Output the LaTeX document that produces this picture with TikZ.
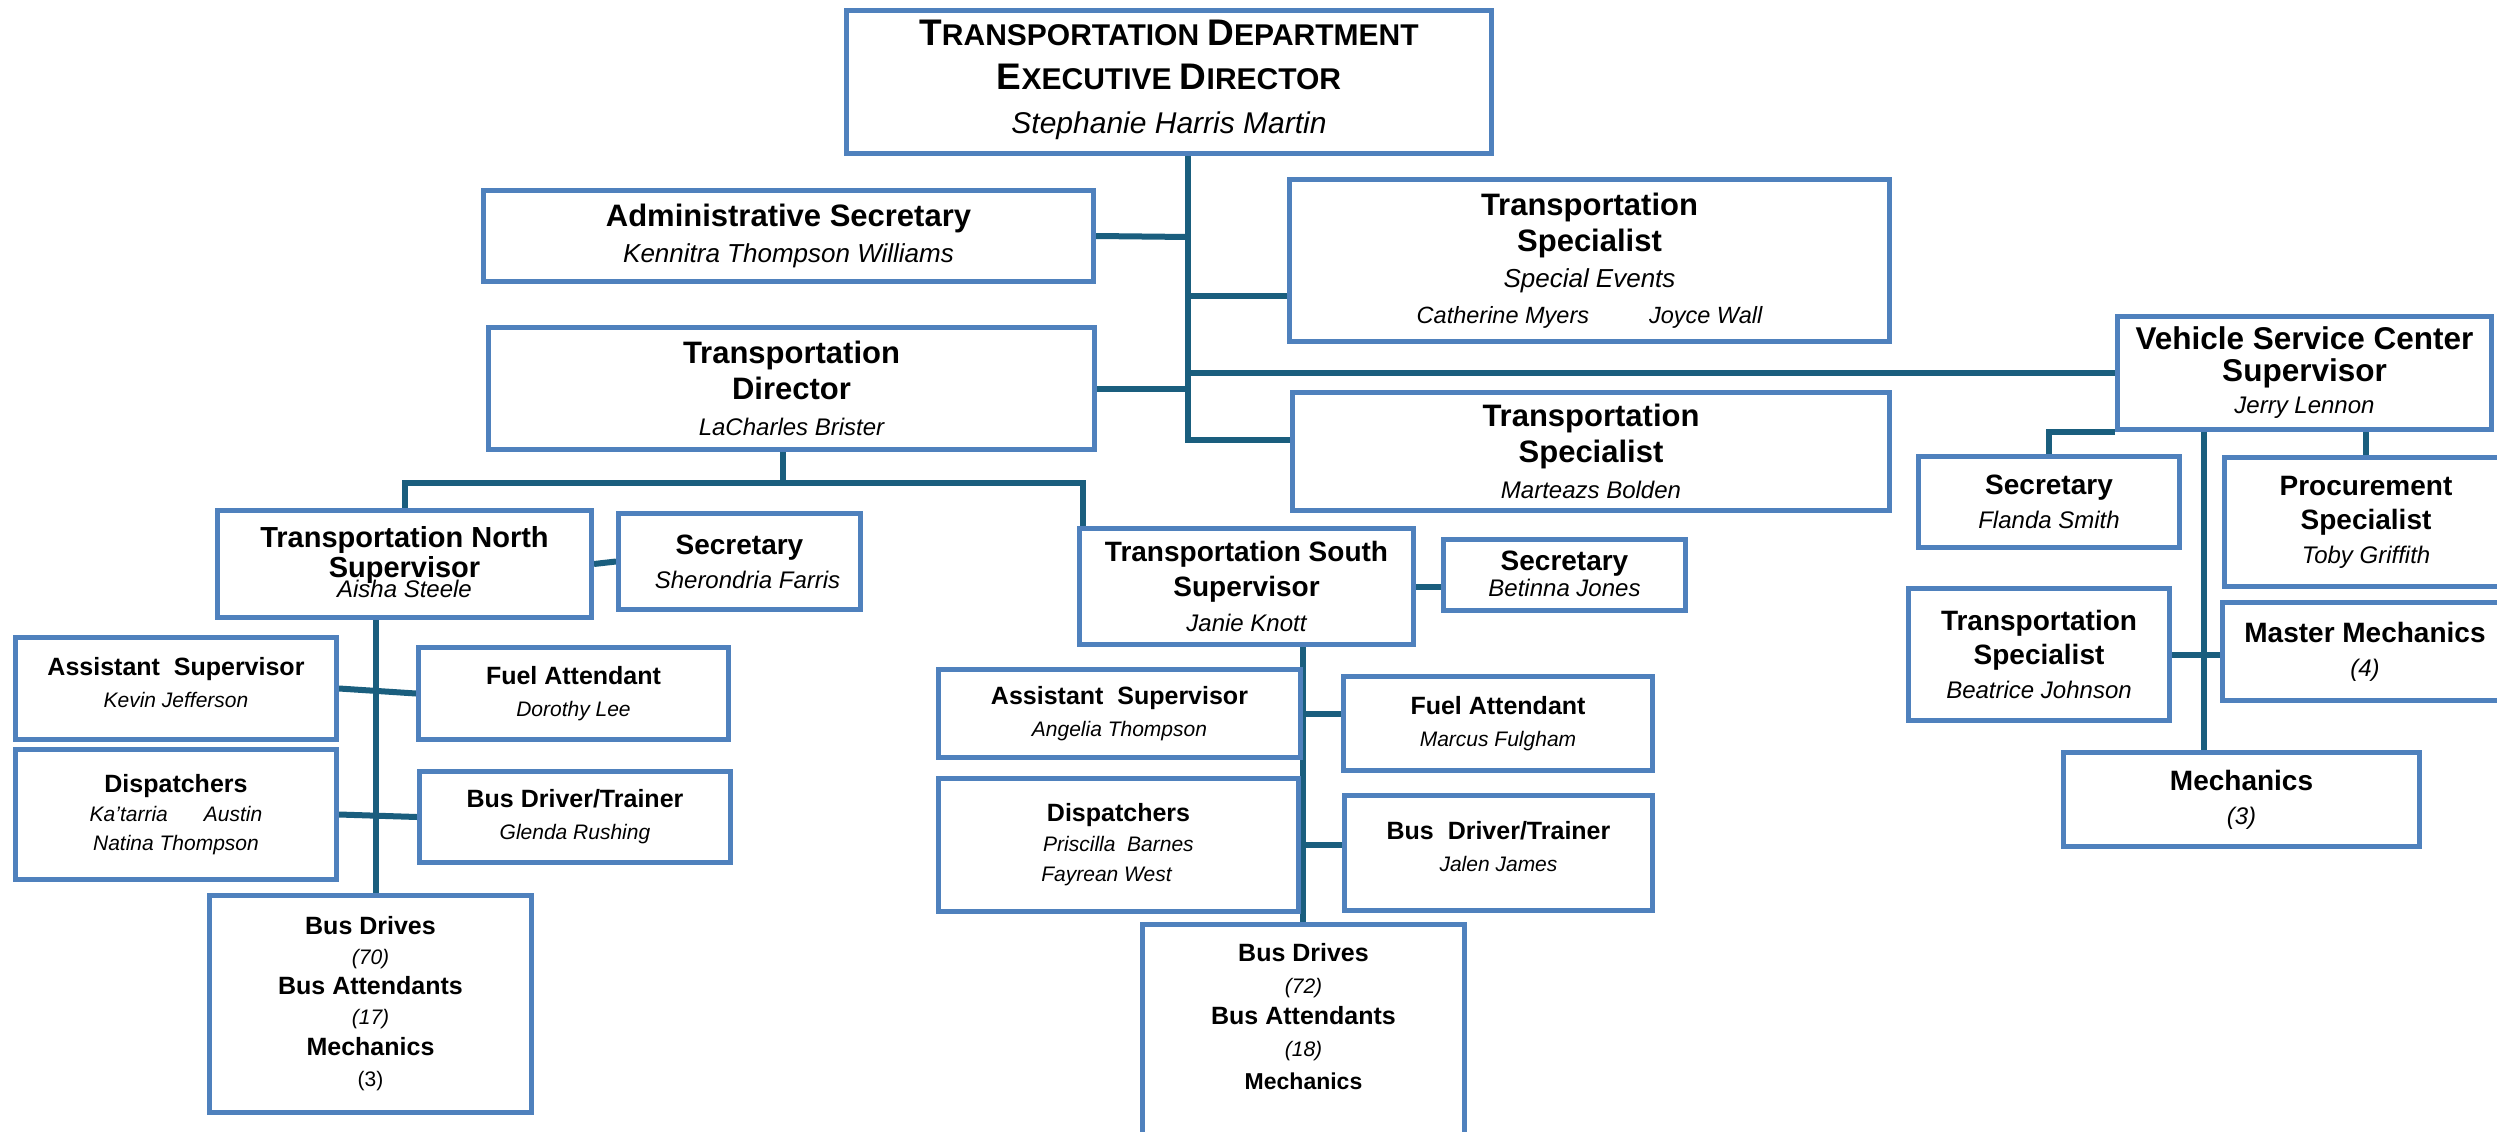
\documentclass[tikz,border=0pt]{standalone}
\usepackage{fontspec}
\setmainfont{Liberation Sans}
\usetikzlibrary{backgrounds}
\definecolor{boxblue}{RGB}{79,129,189}
\definecolor{linecol}{RGB}{26,94,126}
\tikzset{
  box/.style={draw=boxblue, line width=5pt, fill=white, rectangle, inner sep=0pt, align=center, anchor=north west},
  conn/.style={draw=linecol, line width=6pt},
  bigbox/.style={font=\fontsize{31}{36}\selectfont},
  midbox/.style={font=\fontsize{28}{34}\selectfont},
  smlbox/.style={font=\fontsize{25}{32}\selectfont},
}
\newcommand\nm[1]{{\fontsize{24}{28}\selectfont\itshape #1}}
\newcommand\snm[1]{{\fontsize{21}{24}\selectfont\itshape #1}}
\newcommand\sct[2]{{\fontsize{37}{44}\selectfont\bfseries #1}{\fontsize{30}{44}\selectfont\bfseries #2}}
\begin{document}
\begin{tikzpicture}[x=1pt,y=1pt]
\useasboundingbox (0,0) rectangle (2497,-1132);
% top level
\node[box, minimum width=645pt, minimum height=143pt, font=\fontsize{30}{44}\selectfont] (exec) at (844,-8)
  {\sct{T}{RANSPORTATION} \sct{D}{EPARTMENT}\\ \sct{E}{XECUTIVE} \sct{D}{IRECTOR}\\ {\itshape Stephanie Harris Martin}\rule[-10pt]{0pt}{10pt}};
\node[box, bigbox, minimum width=610pt, minimum height=91pt] (admin) at (481,-188)
  {\textbf{Administrative Secretary}\\ {\fontsize{26}{28}\selectfont\itshape Kennitra Thompson Williams}};
\node[box, bigbox, minimum width=600pt, minimum height=162pt] (spec1) at (1287,-177)
  {\textbf{Transportation}\\ \textbf{Specialist}\\ {\fontsize{26}{28}\selectfont\itshape Special Events}\\ {\fontsize{23.5}{24}\selectfont\itshape Catherine Myers\hspace{60pt}Joyce Wall}};
\node[box, bigbox, minimum width=606pt, minimum height=122pt] (dir) at (486,-325)
  {\textbf{Transportation}\\ \textbf{Director}\\ \nm{LaCharles Brister}};
\node[box, bigbox, minimum width=597pt, minimum height=118pt] (spec2) at (1290,-390)
  {\textbf{Transportation}\\ \textbf{Specialist}\\ \nm{Marteazs Bolden}};
% vehicle service center
\node[box, minimum width=374pt, minimum height=113pt, font=\fontsize{31.5}{32}\selectfont] (vsc) at (2115,-314)
  {\textbf{Vehicle Service Center}\\ \textbf{Supervisor}\\ \nm{Jerry Lennon}};
\node[box, midbox, minimum width=261pt, minimum height=91pt] (secF) at (1916,-454)
  {\textbf{Secretary}\\ \nm{Flanda Smith}};
\node[box, midbox, minimum width=283pt, minimum height=129pt] (proc) at (2222,-455)
  {\textbf{Procurement}\\ \textbf{Specialist}\\ \nm{Toby Griffith}};
\node[box, midbox, minimum width=261pt, minimum height=132pt] (beat) at (1906,-586)
  {\textbf{Transportation}\\ \textbf{Specialist}\\ \nm{Beatrice Johnson}};
\node[box, midbox, minimum width=285pt, minimum height=98pt] (master) at (2220,-600)
  {\textbf{Master Mechanics}\\ \nm{(4)}};
\node[box, midbox, minimum width=356pt, minimum height=94pt] (mech) at (2061,-750)
  {\textbf{Mechanics}\\ \nm{(3)}};
% north
\node[box, font=\fontsize{29}{30}\selectfont, minimum width=374pt, minimum height=107pt] (north) at (215,-508)
  {\textbf{Transportation North}\\ \textbf{Supervisor}\\[-10pt] \nm{Aisha Steele}\rule[-4pt]{0pt}{4pt}};
\node[box, midbox, minimum width=242pt, minimum height=96pt] (secS) at (616,-511)
  {\textbf{Secretary}\\ \nm{\hspace{16pt}Sherondria Farris}};
\node[box, smlbox, minimum width=321pt, minimum height=102pt] (asstN) at (13,-635)
  {\textbf{Assistant\ \ Supervisor}\\ \snm{Kevin Jefferson}\rule[-12pt]{0pt}{12pt}};
\node[box, smlbox, minimum width=310pt, minimum height=92pt] (fuelN) at (416,-645)
  {\textbf{Fuel Attendant}\\ \snm{Dorothy Lee}};
\node[box, font=\fontsize{25}{29}\selectfont, minimum width=321pt, minimum height=130pt] (dispN) at (13,-747)
  {\textbf{Dispatchers}\\ \snm{Ka'tarria\hspace{36pt}Austin}\\ \snm{Natina Thompson}\rule[-3pt]{0pt}{3pt}};
\node[box, smlbox, minimum width=311pt, minimum height=91pt] (bdtN) at (417,-769)
  {\textbf{Bus Driver/Trainer}\\ \snm{Glenda Rushing}};
\node[box, font=\fontsize{25}{30}\selectfont, minimum width=322pt, minimum height=217pt] (busN) at (207,-893)
  {\textbf{Bus Drives}\\ \snm{(70)}\\ \textbf{Bus Attendants}\\ \snm{(17)}\\[1pt] \textbf{Mechanics}\\[1pt] {\fontsize{21}{24}\selectfont (3)}};
% south
\node[box, font=\fontsize{28}{35}\selectfont, minimum width=334pt, minimum height=116pt] (south) at (1077,-526)
  {\textbf{Transportation South}\\ \textbf{Supervisor}\\ \nm{Janie Knott}};
\node[box, font=\fontsize{28}{26}\selectfont, minimum width=242pt, minimum height=71pt] (secB) at (1441,-537)
  {\textbf{Secretary}\\ \nm{Betinna Jones}\rule[-2pt]{0pt}{2pt}};
\node[box, smlbox, minimum width=362pt, minimum height=88pt] (asstS) at (936,-667)
  {\textbf{Assistant\ \ Supervisor}\\ \snm{Angelia Thompson}};
\node[box, smlbox, minimum width=309pt, minimum height=94pt] (fuelS) at (1341,-674)
  {\textbf{Fuel Attendant}\\ \snm{Marcus Fulgham}\rule[-3pt]{0pt}{3pt}};
\node[box, font=\fontsize{25}{30}\selectfont, minimum width=360pt, minimum height=133pt] (dispS) at (936,-776)
  {\textbf{Dispatchers}\\ \snm{Priscilla\ \ Barnes}\\ \snm{Fayrean West\hspace{24pt}}\rule[-4pt]{0pt}{4pt}};
\node[box, smlbox, minimum width=308pt, minimum height=115pt] (bdtS) at (1342,-793)
  {\textbf{Bus\ \ Driver/Trainer}\\ \snm{Jalen James}\rule[-14pt]{0pt}{14pt}};
\node[box, font=\fontsize{25}{31.5}\selectfont, minimum width=322pt, minimum height=218pt] (busS) at (1140,-922)
  {\textbf{Bus Drives}\\ \snm{(72)}\\ \textbf{Bus Attendants}\\ \snm{(18)}\\[2pt] {\fontsize{23}{28}\selectfont\textbf{Mechanics}}\rule[-34pt]{0pt}{34pt}};
% connectors
\coordinate (trk) at (1188,0);
\coordinate (dx) at (783,0);
\coordinate (ntr) at (376,0);
\coordinate (str) at (1303,0);
\coordinate (vtr) at (2204,0);
\begin{pgfonlayer}{background}
\fill[white] (0,0) rectangle (2497,-1132);
\draw[conn] (exec.south -| trk) -- (trk |- 0,-443);
\draw[conn] (admin.east) -- (trk |- 0,-237);
\draw[conn] (trk |- 0,-296) -- (spec1.west |- 0,-296);
\draw[conn] (trk |- vsc.west) -- (vsc.west);
\draw[conn] (dir.east) -- (trk |- dir.east);
\draw[conn] (trk |- 0,-440) -- (spec2.west |- 0,-440);
\draw[conn] (dir.south -| dx) -- (dx |- 0,-483);
\draw[conn] (north.north) |- (1083,-483) -- (south.north -| 1083,0);
\draw[conn] (north.east) -- (secS.west);
\draw[conn] (north.south -| ntr) -- (busN.north -| ntr);
\draw[conn] (asstN.east) -- (fuelN.west);
\draw[conn] (dispN.east) -- (bdtN.west);
\draw[conn] (south.east) -- (secB.west |- south.east);
\draw[conn] (south.south -| str) -- (busS.north -| str);
\draw[conn] (asstS.east) -- (fuelS.west |- asstS.east);
\draw[conn] (dispS.east) -- (bdtS.west |- dispS.east);
\draw[conn] (vsc.south west) -| (secF.north);
\draw[conn] (vsc.south -| vtr) -- (mech.north -| vtr);
\draw[conn] (vsc.south -| proc.north) -- (proc.north);
\draw[conn] (beat.east) -- (master.west |- beat.east);
\end{pgfonlayer}
\end{tikzpicture}
\end{document}
